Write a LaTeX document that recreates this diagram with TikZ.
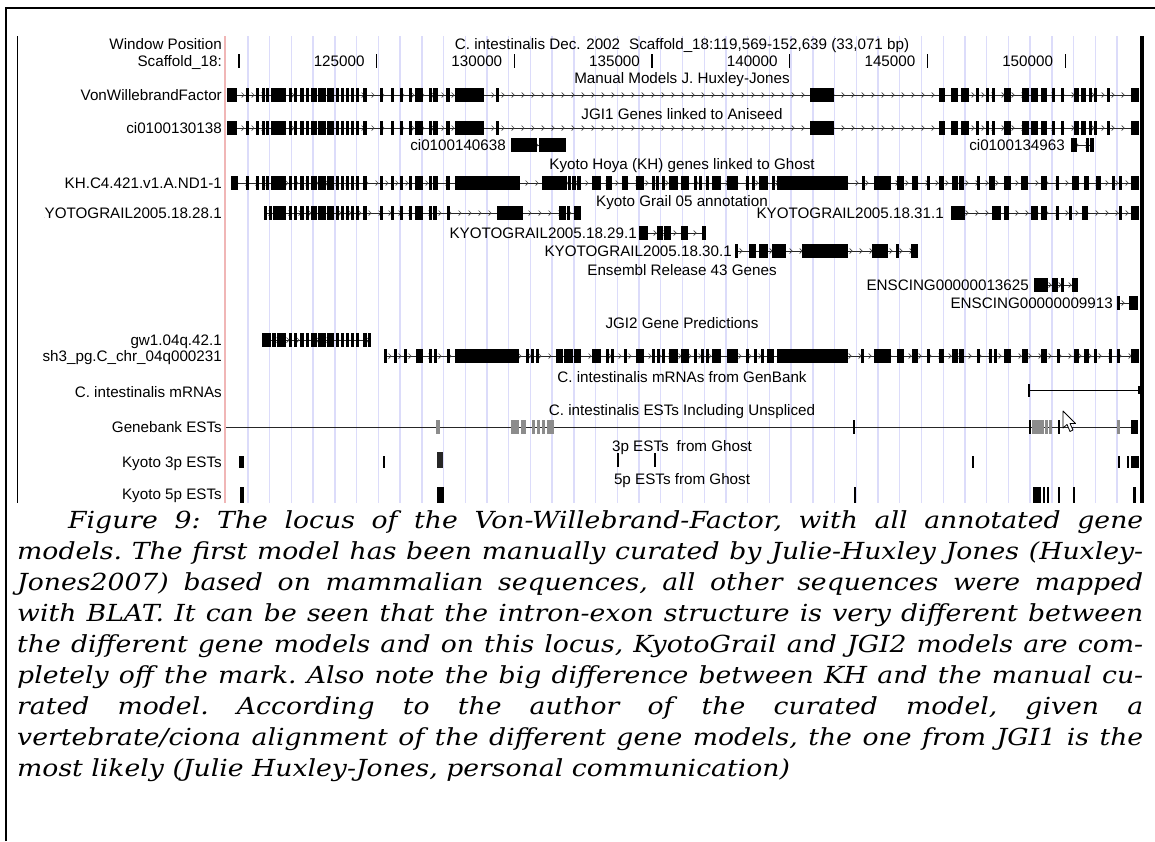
\documentclass[tikz,border=0pt]{standalone}
\usepackage{fontspec}
\setmainfont{DejaVu Serif}
\newfontfamily\capf{DejaVu Serif}[FakeStretch=1.135]
\newfontfamily\labf{Liberation Sans}
\definecolor{gridc}{RGB}{220,220,250}
\definecolor{redl}{RGB}{240,182,182}
\definecolor{estg}{RGB}{140,140,140}
\tikzset{
  lab/.style={font=\labf\fontsize{15.2}{18}\selectfont, inner sep=0, anchor=base east},
  ttl/.style={font=\labf\fontsize{15.2}{18}\selectfont, inner sep=0, anchor=base},
  intron/.style={line width=0.8pt, black!85},
  chev/.style={line width=0.7pt, black!75},
  gridln/.style={line width=1.4pt, gridc},
  capline/.style={anchor=base west, inner sep=0, font=\capf\fontsize{23.5}{31}\selectfont\itshape\frenchspacing},
  frameln/.style={line width=1.2pt, black}
}
\newcommand\gmodel[4]{%
  \draw[intron] (#2,#1) -- (#3,#1);
  \pgfmathsetmacro\gs{#2+6}\pgfmathsetmacro\gn{#2+16}%
  \foreach \ax in {\gs,\gn,...,#3}{\draw[chev] (\ax-2.5,#1-2.5) -- (\ax,#1) -- (\ax-2.5,#1+2.5);}
  \edef\elist{#4}%
  \foreach \ea/\eb in \elist {\fill (\ea-0.6,#1-7) rectangle (\eb+0.6,#1+7);}
}
\newcommand\ticklab[2]{%
  \draw[line width=1.3pt] (#1,54) -- (#1,68);
  \node[lab] (t#2) at (#1-12,66.5) {#2};
}
\begin{document}
\begin{tikzpicture}[x=1pt,y=-1pt]
\useasboundingbox (0,0) rectangle (1155,841);
\fill[white] (0,0) rectangle (1155,841);
% outer frame
\draw[frameln] (6,841) -- (6,8) -- (1155,8);
% screenshot frame
\draw[line width=1pt] (17,36) -- (17,503);
% guide lines
\foreach \k in {0,...,40}{\draw[gridln] (248+21.725*\k,36) -- (248+21.725*\k,503);}
\draw[line width=1.4pt, redl] (225,36) -- (225,503);
\fill (1140,36) rectangle (1144,503);
% header
\node[lab] (wp) at (222,49.5) {Window Position};
\node[lab] (sc) at (222,66.5) {Scaffold\_18:};
\node[ttl] (title) at (682,49.5) {C. intestinalis Dec. 2002\hspace{9pt}Scaffold\_18:119,569-152,639 (33,071 bp)};
\draw[line width=1.3pt] (239,54) -- (239,68);
\ticklab{376.7}{125000}
\ticklab{514.4}{130000}
\ticklab{652.1}{135000}
\ticklab{789.8}{140000}
\ticklab{927.5}{145000}
\ticklab{1065.2}{150000}
% track titles
\node[ttl] (tt1) at (682,83.5) {Manual Models J. Huxley-Jones};
\node[ttl] (tt2) at (682,119) {JGI1 Genes linked to Aniseed};
\node[ttl] (tt3) at (682,169.5) {Kyoto Hoya (KH) genes linked to Ghost};
\node[ttl] (tt4) at (682,206.5) {Kyoto Grail 05 annotation};
\node[ttl] (tt5) at (682,275.5) {Ensembl Release 43 Genes};
\node[ttl] (tt6) at (682,328.5) {JGI2 Gene Predictions};
\node[ttl] (tt7) at (682,382.5) {C. intestinalis mRNAs from GenBank};
\node[ttl] (tt8) at (682,415.5) {C. intestinalis ESTs Including Unspliced};
\node[ttl] (tt9) at (682,451.5) {3p ESTs\hspace{8pt}from Ghost};
\node[ttl] (tt10) at (682,484.5) {5p ESTs from Ghost};
% left labels
\node[lab] (l1) at (222,100.5) {VonWillebrandFactor};
\node[lab] (l2) at (222,133.5) {ci0100130138};
\node[lab] (l3) at (222,188.5) {KH.C4.421.v1.A.ND1-1};
\begin{scope}
\clip (44,195) rectangle (224,230);
\node[lab] (l4) at (222,218.5) {KYOTOGRAIL2005.18.28.1};
\end{scope}
\node[lab] (l5) at (222,345.5) {gw1.04q.42.1};
\node[lab] (l6) at (222,361.5) {sh3\_pg.C\_chr\_04q000231};
\node[lab] (l7) at (222,397.5) {C. intestinalis mRNAs};
\node[lab] (l8) at (222,432.5) {Genebank ESTs};
\node[lab] (l9) at (222,467.5) {Kyoto 3p ESTs};
\node[lab] (l10) at (222,499.5) {Kyoto 5p ESTs};
% inline labels
\node[lab] (n1) at (506,150.5) {ci0100140638};
\node[lab] (n2) at (1065,150.5) {ci0100134963};
\node[lab] (n3) at (637,238.5) {KYOTOGRAIL2005.18.29.1};
\node[lab] (n4) at (732,256.5) {KYOTOGRAIL2005.18.30.1};
\node[lab] (n5) at (944,218.5) {KYOTOGRAIL2005.18.31.1};
\node[lab] (n6) at (1029,290.5) {ENSCING00000013625};
\node[lab] (n7) at (1113,308.5) {ENSCING00000009913};
% gene models
\def\vwf{228/236,247/248,257/258,263/264,267/268,272/279,281/285,290/291,295/296,301/303,307/308,312/316,319/325,328/333,337/338,342/343,347/348,352/353,357/358,364/366,381/382,392/393,401/402,410/411,416/422,430/431,434/437,447/449,456/483,497/498,811/833,940/944,952/957,962/968,977/978,987/988,993/994,1005/1010,1023/1028,1032/1037,1042/1043,1045/1046,1053/1054,1062/1063,1075/1078,1082/1085,1090/1091,1095/1096,1108/1109,1132/1138}
\gmodel{95}{228}{1138}{\vwf}
\gmodel{128}{228}{1138}{\vwf}
\gmodel{145}{512}{565}{512/527,529/530,532/536,540/565}
\gmodel{145}{1072}{1093}{1072/1076,1087/1088,1091/1093}
\gmodel{183}{232}{1138}{232/237,247/248,257/258,263/264,267/268,272/279,281/285,290/291,295/296,301/303,307/308,312/316,319/325,328/333,337/338,342/343,347/348,352/353,357/358,364/366,381/382,392/393,401/402,410/411,416/422,430/431,434/437,447/449,456/519,543/566,569/570,573/575,578/580,593/600,607/608,610/611,623/627,637/643,653/654,657/658,663/664,670/677,682/688,695/696,700/701,707/708,713/720,728/737,747/748,753/754,760/767,773/774,778/847,863/864,875/890,898/903,913/917,928/929,940/943,953/957,960/963,978/979,990/991,993/994,1005/1010,1022/1027,1042/1043,1045/1046,1057/1058,1073/1078,1085/1088,1097/1100,1113/1114,1120/1121,1132/1138}
\gmodel{213}{265}{580}{265/266,270/271,274/279,281/285,290/291,295/296,301/303,307/308,312/316,319/325,328/333,337/338,342/343,347/348,352/353,357/358,364/366,381/382,392/393,401/402,410/411,416/422,430/431,434/436,448/449,498/522,560/565,568/569,575/580}
\gmodel{213}{952}{1138}{952/960,962/964,993/1000,1005/1008,1032/1037,1042/1043,1045/1046,1057/1058,1070/1071,1083/1087,1120/1121,1132/1138}
\gmodel{233}{640}{705}{640/647,658/662,665/670,682/687,703/705}
\gmodel{251}{736}{917}{736/737,750/755,760/767,773/785,803/847,873/887,897/898,912/917}
\gmodel{285}{1035}{1077}{1035/1036,1038/1041,1043/1047,1053/1057,1062/1063,1073/1077}
\gmodel{303}{1118}{1137}{1118/1119,1130/1132,1134/1137}
\gmodel{340}{263}{370}{263/270,273/275,278/285,290/291,295/296,301/303,307/308,312/316,319/325,328/333,337/338,342/343,347/348,352/353,357/358,364/366,369/370}
\gmodel{356}{385}{1138}{385/386,395/396,405/406,417/422,430/431,435/436,448/449,456/518,527/528,532/533,537/538,557/562,565/572,575/580,593/600,607/608,612/613,625/626,637/643,653/654,658/659,663/664,670/677,682/688,695/696,702/703,707/708,713/720,728/737,747/748,755/756,762/763,768/773,778/847,862/863,875/890,898/903,913/917,928/929,940/943,953/957,960/963,978/979,990/991,995/996,1005/1010,1023/1027,1042/1043,1045/1046,1058/1059,1075/1078,1085/1088,1095/1096,1110/1111,1118/1119,1132/1138}
% mRNA
\draw[line width=1pt] (1029,390) -- (1139,390);
\draw[line width=1.2pt] (1029,384) -- (1029,397);
\draw[line width=1.2pt] (1139,386) -- (1139,394);
% Genbank ESTs
\draw[line width=1pt, black!85] (226,427) -- (1138,427);
\foreach \a/\b in {437/439,512/514,516/518,522/525,533/534,538/539,543/544,548/550,551/553,1033/1034,1036/1037,1039/1040,1042/1043,1046/1047,1050/1051,1118/1119}{\fill[estg] (\a-0.6,420) rectangle (\b+0.6,434);}
\foreach \a/\b in {853/854,1029/1030,1058/1059}{\fill (\a-0.5,420) rectangle (\b+0.5,434);}
\fill (1131,420) rectangle (1138,434);
% cursor
\draw[fill=white, line width=0.8pt, line join=round] (1063,411) -- (1063,428) -- (1067,424.5) -- (1070,431.5) -- (1073,430) -- (1070,423.5) -- (1075.5,423.5) -- cycle;
% Kyoto 3p ESTs
\foreach \a/\b in {239/243,383/384,972/973,1118/1119,1127/1128,1131/1138}{\fill (\a-0.5,456) rectangle (\b+0.5,468);}
\fill[black!85] (437,452) rectangle (443,468);
\foreach \a in {618,655}{\fill (\a-0.6,453) rectangle (\a+0.6,467);}
% Kyoto 5p ESTs
\foreach \a/\b in {240/243,437/443,854/855,1033/1040,1043/1044,1047/1048,1058/1059,1073/1074,1133/1135}{\fill (\a-0.5,487) rectangle (\b+0.5,503);}
% caption
\node[capline] (c1) at (68,528) {\makebox[1075pt][s]{Figure 9: The locus of the Von-Willebrand-Factor, with all annotated gene}};
\node[capline] (c2) at (17,559.1) {\makebox[1126pt][s]{models. The first model has been manually curated by Julie-Huxley Jones (Huxley-}};
\node[capline] (c3) at (17,590.2) {\makebox[1126pt][s]{Jones2007) based on mammalian sequences, all other sequences were mapped}};
\node[capline] (c4) at (17,621.3) {\makebox[1126pt][s]{with BLAT. It can be seen that the intron-exon structure is very different between}};
\node[capline] (c5) at (17,652.4) {\makebox[1126pt][s]{the different gene models and on this locus, KyotoGrail and JGI2 models are com-}};
\node[capline] (c6) at (17,683.5) {\makebox[1126pt][s]{pletely off the mark. Also note the big difference between KH and the manual cu-}};
\node[capline] (c7) at (17,714.6) {\makebox[1126pt][s]{rated model. According to the author of the curated model, given a}};
\node[capline] (c8) at (17,745.7) {\makebox[1126pt][s]{vertebrate/ciona alignment of the different gene models, the one from JGI1 is the}};
\node[capline] (c9) at (17,776.8) {most likely (Julie Huxley-Jones, personal communication)};
\end{tikzpicture}
\end{document}
